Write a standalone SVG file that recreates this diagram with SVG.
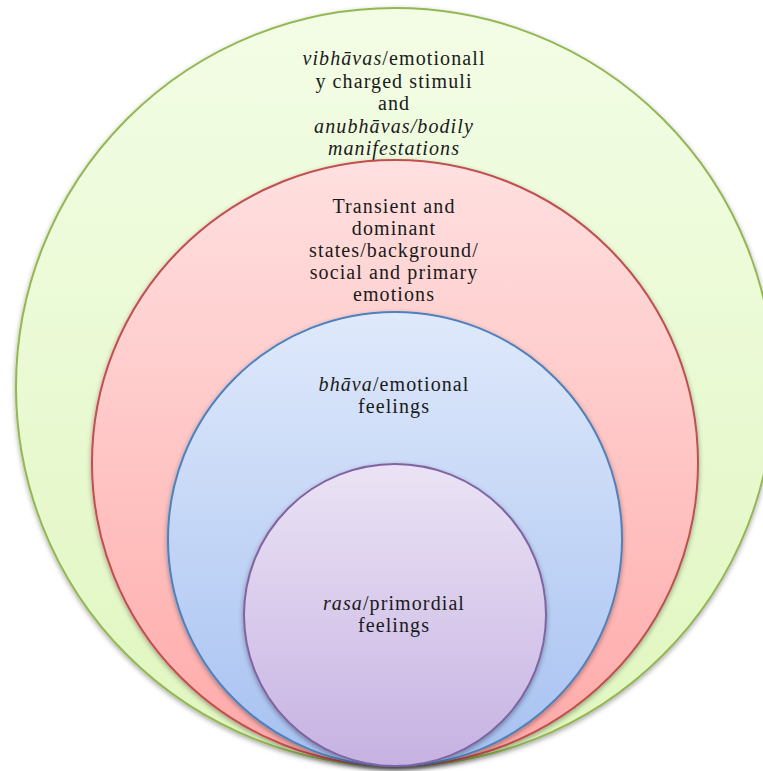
<svg xmlns="http://www.w3.org/2000/svg" width="763" height="771" viewBox="0 0 763 771">
<defs>
<linearGradient id="gG" x1="0" y1="0" x2="0" y2="1"><stop offset="0" stop-color="#f3fde6"/><stop offset="1" stop-color="#e0f6bf"/></linearGradient>
<linearGradient id="gR" x1="0" y1="0" x2="0" y2="1"><stop offset="0" stop-color="#ffe0e0"/><stop offset="1" stop-color="#ffa9a8"/></linearGradient>
<linearGradient id="gB" x1="0" y1="0" x2="0" y2="1"><stop offset="0" stop-color="#dfe9fb"/><stop offset="1" stop-color="#a6c1f1"/></linearGradient>
<linearGradient id="gP" x1="0" y1="0" x2="0" y2="1"><stop offset="0" stop-color="#ebe3f5"/><stop offset="1" stop-color="#c6b2e2"/></linearGradient>
<filter id="sh" x="-10%" y="-10%" width="120%" height="125%"><feDropShadow dx="0" dy="2" stdDeviation="2.5" flood-color="#000" flood-opacity="0.35"/></filter>
</defs>
<style>
text{font-family:"Liberation Serif","DejaVu Serif",serif;font-size:20px;letter-spacing:1.1px;fill:#1a1a1a;text-anchor:middle}
.i{font-style:italic}
</style>
<g id="outer">
<circle cx="395" cy="387" r="379" fill="url(#gG)" stroke="#93b852" stroke-width="2" filter="url(#sh)"/>
<text x="394" y="65"><tspan class="i">vibhāvas</tspan>/emotionall</text>
<text x="394" y="88">y charged stimuli</text>
<text x="394" y="110">and</text>
<text x="394" y="133"><tspan class="i">anubhāvas/bodily</tspan></text>
<text x="394" y="155" class="i">manifestations</text>
</g>
<g id="states">
<circle cx="395" cy="463" r="303" fill="url(#gR)" stroke="#c0504d" stroke-width="2" filter="url(#sh)"/>
<text x="394" y="213">Transient and</text>
<text x="394" y="235">dominant</text>
<text x="394" y="257">states/background/</text>
<text x="394" y="279">social and primary</text>
<text x="394" y="301">emotions</text>
</g>
<g id="bhava">
<circle cx="395" cy="539" r="227" fill="url(#gB)" stroke="#4f81bd" stroke-width="2" filter="url(#sh)"/>
<text x="394" y="391"><tspan class="i">bhāva</tspan>/emotional</text>
<text x="394" y="413">feelings</text>
</g>
<g id="rasa">
<circle cx="395" cy="615" r="151" fill="url(#gP)" stroke="#8064a2" stroke-width="2" filter="url(#sh)"/>
<text x="394" y="610"><tspan class="i">rasa</tspan>/primordial</text>
<text x="394" y="632">feelings</text>
</g>
<g id="connectors"/>
</svg>
